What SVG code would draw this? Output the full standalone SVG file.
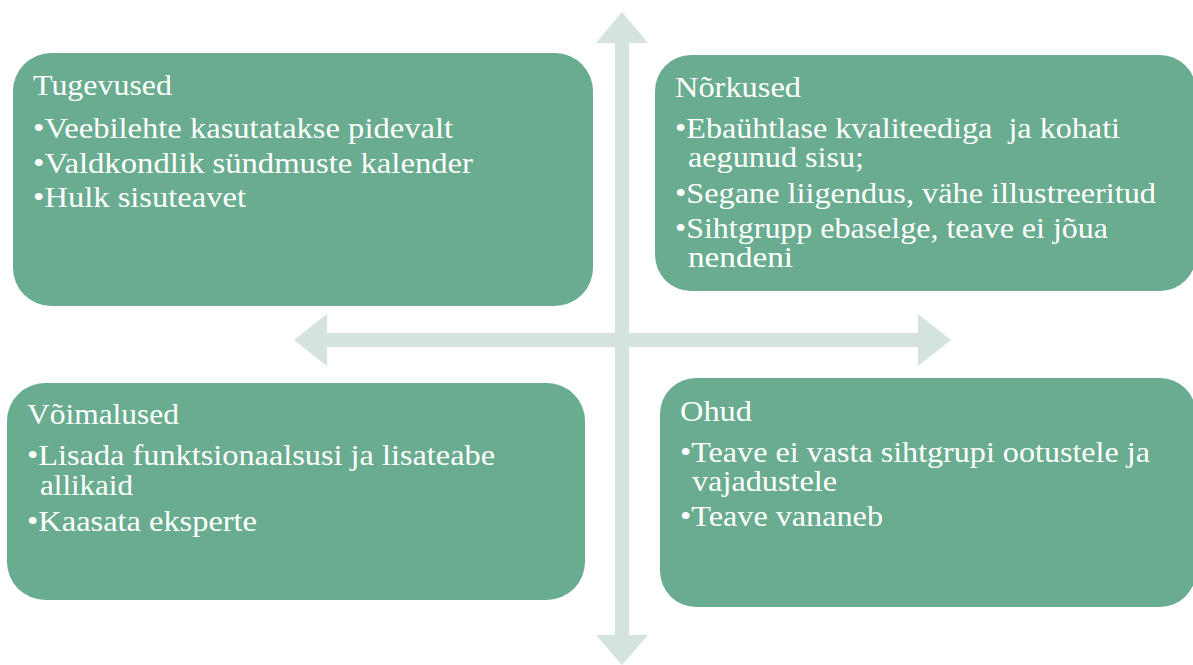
<svg xmlns="http://www.w3.org/2000/svg" width="1193" height="665" viewBox="0 0 1193 665">
<style>
.box{fill:#69ac8f}
.ax{fill:#d4e3dc}
text{font-family:"Liberation Serif","DejaVu Serif",serif;fill:#ffffff;font-size:28.5px}
</style>
<rect width="1193" height="665" fill="#ffffff"/>
<g id="connectors">
<polygon class="ax" points="622,12 648,43 629,43 629,333 918,333 918,314 951,340 918,366 918,347 629,347 629,635 648,635 622,665 596,635 615,635 615,347 327,347 327,366 294,340 327,314 327,333 615,333 615,43 596,43"/>
</g>
<g id="tugevused">
<rect class="box" x="13" y="53" width="580" height="253" rx="38"/>
<text x="33" y="95" textLength="139" lengthAdjust="spacingAndGlyphs">Tugevused</text>
<text x="33" y="138" textLength="420" lengthAdjust="spacingAndGlyphs">•Veebilehte kasutatakse pidevalt</text>
<text x="33" y="173" textLength="440" lengthAdjust="spacingAndGlyphs">•Valdkondlik sündmuste kalender</text>
<text x="33" y="207" textLength="213" lengthAdjust="spacingAndGlyphs">•Hulk sisuteavet</text>
</g>
<g id="norkused">
<rect class="box" x="655" y="55" width="541" height="236" rx="36"/>
<text x="675" y="97" textLength="126" lengthAdjust="spacingAndGlyphs">Nõrkused</text>
<text x="675" y="138" textLength="445" lengthAdjust="spacingAndGlyphs" xml:space="preserve">•Ebaühtlase kvaliteediga  ja kohati</text>
<text x="688" y="167" textLength="176" lengthAdjust="spacingAndGlyphs">aegunud sisu;</text>
<text x="675" y="203" textLength="481" lengthAdjust="spacingAndGlyphs">•Segane liigendus, vähe illustreeritud</text>
<text x="675" y="238" textLength="433" lengthAdjust="spacingAndGlyphs">•Sihtgrupp ebaselge, teave ei jõua</text>
<text x="688" y="267" textLength="105" lengthAdjust="spacingAndGlyphs">nendeni</text>
</g>
<g id="voimalused">
<rect class="box" x="7" y="383" width="578" height="217" rx="38"/>
<text x="27" y="424" textLength="152" lengthAdjust="spacingAndGlyphs">Võimalused</text>
<text x="27" y="465" textLength="468" lengthAdjust="spacingAndGlyphs">•Lisada funktsionaalsusi ja lisateabe</text>
<text x="40" y="495" textLength="93" lengthAdjust="spacingAndGlyphs">allikaid</text>
<text x="27" y="531" textLength="230" lengthAdjust="spacingAndGlyphs">•Kaasata eksperte</text>
</g>
<g id="ohud">
<rect class="box" x="660" y="378" width="536" height="229" rx="36"/>
<text x="680" y="421" textLength="72" lengthAdjust="spacingAndGlyphs">Ohud</text>
<text x="680" y="462" textLength="470" lengthAdjust="spacingAndGlyphs">•Teave ei vasta sihtgrupi ootustele ja</text>
<text x="692" y="491" textLength="145" lengthAdjust="spacingAndGlyphs">vajadustele</text>
<text x="680" y="526" textLength="203" lengthAdjust="spacingAndGlyphs">•Teave vananeb</text>
</g>
</svg>
